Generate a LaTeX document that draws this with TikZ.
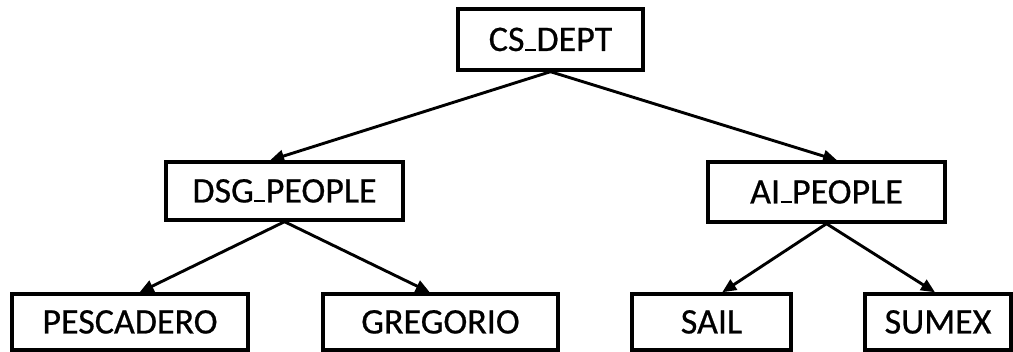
\documentclass[tikz,border=0pt]{standalone}
\usepackage{fontspec}
\setmainfont{Carlito}
\newfontfamily\boxfont{Carlito}[FakeBold=0.6]
\usetikzlibrary{calc,arrows.meta}
% short low bar joining the two halves of a name
\newcommand\lowbar{\kern0.5pt\rule{11pt}{2.4pt}\kern0.5pt}
\begin{document}
\begin{tikzpicture}[x=1pt,y=-1pt,
  box/.style={draw,line width=3.4pt,rectangle,inner sep=0pt,
    text height=23pt,text depth=0pt,
    font=\fontsize{36}{42}\boxfont},
  arr/.style={line width=2.9pt,-{Triangle[length=14pt,width=12pt]}}]
\useasboundingbox (0,0) rectangle (1013,352);

% tree nodes
\node[box,minimum width=185pt,minimum height=61pt] (cs)    at (550.5,39.5) {CS\lowbar DEPT};
\node[box,minimum width=237pt,minimum height=58pt] (dsg)   at (284.5,191)  {DSG\lowbar PEOPLE};
\node[box,minimum width=237pt,minimum height=60pt] (ai)    at (826.5,192)  {AI\lowbar PEOPLE};
\node[box,minimum width=236pt,minimum height=56pt] (pesc)  at (130,322)    {PESCADERO};
\node[box,minimum width=235pt,minimum height=56pt] (greg)  at (440.5,322)  {GREGORIO};
\node[box,minimum width=159pt,minimum height=56pt] (sail)  at (711.5,322)  {SAIL};
\node[box,minimum width=146pt,minimum height=56pt] (sumex) at (938,322)    {SUMEX};

% parent-to-child links
\draw[arr] (cs.south) -- ($(dsg.north west)!0.44!(dsg.north east)$);
\draw[arr] (cs.south) -- ($(ai.north west)!0.544!(ai.north east)$);
\draw[arr] (dsg.south) -- ($(pesc.north west)!0.54!(pesc.north east)$);
\draw[arr] (dsg.south) -- ($(greg.north west)!0.455!(greg.north east)$);
\draw[arr] (ai.south) -- ($(sail.north west)!0.566!(sail.north east)$);
\draw[arr] (ai.south) -- ($(sumex.north west)!0.48!(sumex.north east)$);
\end{tikzpicture}
\end{document}
